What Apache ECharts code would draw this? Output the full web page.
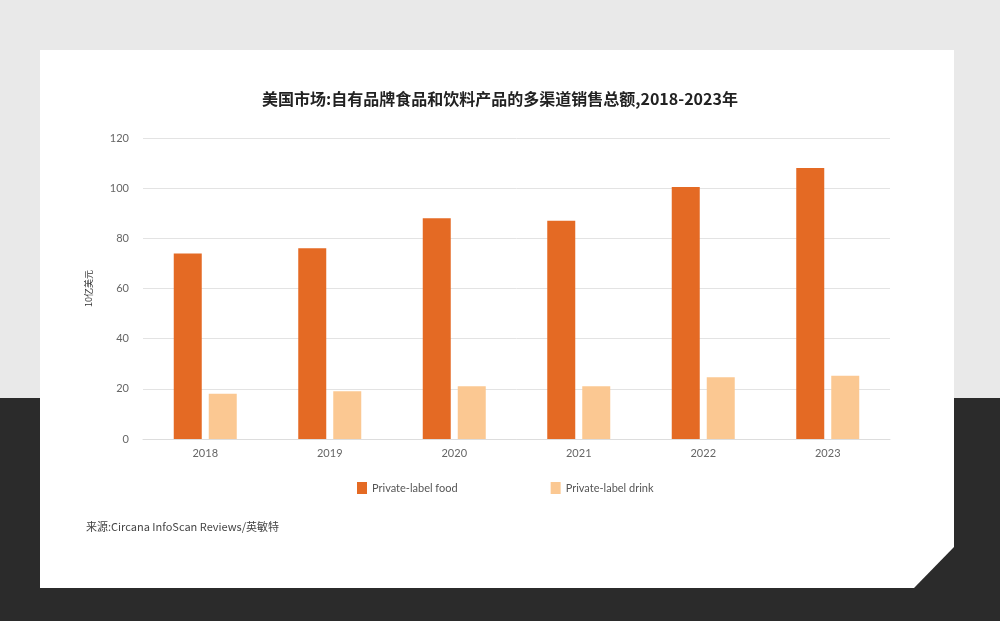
<!DOCTYPE html>
<html><head><meta charset="utf-8">
<script src="https://cdn.jsdelivr.net/npm/echarts@6/dist/echarts.min.js"></script>
<style>html,body{margin:0;padding:0;background:#e9e9e9}#c{width:1000px;height:621px}</style>
</head><body><div id="c"></div>
<script>
const categories = ['2018','2019','2020','2021','2022','2023'];
const foodValues = [74, 76, 88, 87, 100.5, 108];
const drinkValues = [18, 19, 21, 21, 24.6, 25.2];
const yTicks = [0, 20, 40, 60, 80, 100, 120];
const seriesNames = ['Private-label food', 'Private-label drink'];
const titleText = '美国市场:自有品牌食品和饮料产品的多渠道销售总额,2018-2023年';
const yAxisName = '10亿美元';
const sourceText = '来源:Circana InfoScan Reviews/英敏特';

const chart = echarts.init(document.getElementById('c'), null, {renderer:'canvas'});
const font = '"Noto Sans CJK SC", "Noto Sans", sans-serif';
chart.setOption({
  animation: false,
  backgroundColor: 'transparent',
  graphic: [
    {type:'rect', z:-10, shape:{x:0,y:0,width:1000,height:398}, style:{fill:'#e9e9e9'}, silent:true},
    {type:'rect', z:-10, shape:{x:0,y:398,width:1000,height:223}, style:{fill:'#2b2b2b'}, silent:true},
    {type:'polygon', z:-9, shape:{points:[[40,50],[954,50],[954,547],[914,588],[40,588]]}, style:{fill:'#ffffff'}, silent:true},
    {type:'text', left:86, top:521, style:{text:sourceText, fill:'#444', font:'11px ' + font}}
  ],
  title: {
    text: titleText, left: 'center', top: 86,
    textStyle: {fontSize: 16, fontWeight: 'bold', color: '#222', fontFamily: font}
  },
  legend: {
    data: seriesNames, top: 477, left: 352, itemGap: 93,
    itemWidth: 10, itemHeight: 12, icon: 'rect',
    textStyle: {color: '#555', fontSize: 11, fontFamily: 'Lato, sans-serif'}
  },
  grid: {left: 143, right: 110, top: 138, bottom: 182, containLabel: false},
  xAxis: {
    type: 'category', data: categories,
    axisLine: {show: true, lineStyle: {color: '#ddd'}}, axisTick: {show: false},
    axisLabel: {color: '#666', fontSize: 11, margin: 9, fontFamily: 'Lato, sans-serif'}
  },
  yAxis: {
    type: 'value', min: 0, max: 120, interval: 20,
    name: yAxisName, nameLocation: 'middle', nameGap: 50, nameRotate: 90,
    nameTextStyle: {color: '#333', fontSize: 9, fontFamily: font},
    axisLine: {show: false}, axisTick: {show: false},
    axisLabel: {color: '#666', fontSize: 11, margin: 14, fontFamily: 'Lato, sans-serif',
      formatter: v => yTicks.includes(v) ? String(v) : ''},
    splitLine: {lineStyle: {color: '#e3e3e3'}}
  },
  series: [
    {name: seriesNames[0], type: 'bar', data: foodValues, barWidth: 28, barGap: '25%',
     itemStyle: {color: '#e46a24'}},
    {name: seriesNames[1], type: 'bar', data: drinkValues, barWidth: 28,
     itemStyle: {color: '#fbc892'}}
  ]
});
</script></body></html>
